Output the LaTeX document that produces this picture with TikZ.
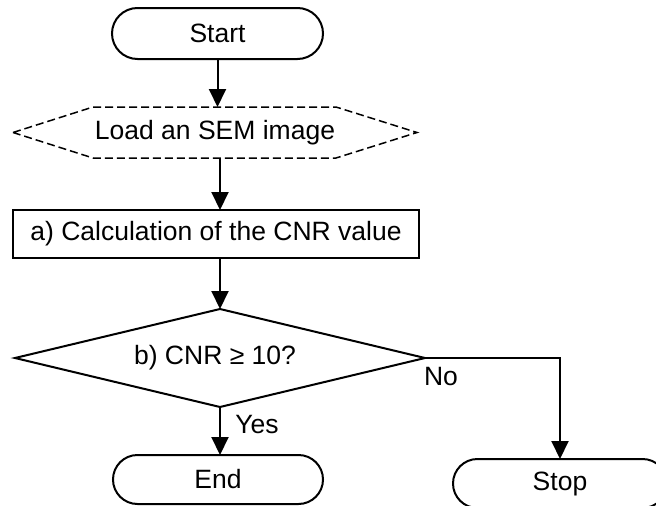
\documentclass[tikz,border=0pt]{standalone}
\usepackage{fontspec}
\setmainfont{Liberation Sans}
\usetikzlibrary{shapes.geometric,shapes.misc,arrows.meta,calc}

\begin{document}
\begin{tikzpicture}[x=1pt,y=-1pt,
  every node/.style={font=\fontsize{26.5}{30}\selectfont, inner sep=0pt, outer sep=0pt},
  line/.style={line width=2pt},
  arr/.style={line, -{Triangle[length=18pt,width=17pt]}},
  terminal/.style={rounded rectangle, draw, line width=2pt},
  process/.style={rectangle, draw, line width=2pt},
  decision/.style={diamond, draw, line width=2pt, aspect=4.2},
  dashedborder/.style={line width=1.5pt, dash pattern=on 8pt off 4pt}
]
\useasboundingbox (0,0) rectangle (656,506);
\clip (0,0) rectangle (656,506);

% flow chart boxes
\node[terminal, minimum width=211pt, minimum height=51pt] (start) at (217.5,33.5) {Start};
\node[minimum width=404pt, minimum height=51pt] (load) at (215,132.5) {Load an SEM image};
\draw[dashedborder] (load.west) -- ($(load.north west)+(80,0)$) -- ($(load.north east)+(-81,0)$)
  -- (load.east) -- ($(load.south east)+(-81,0)$) -- ($(load.south west)+(80,0)$) -- cycle;
\node[process, minimum width=406pt, minimum height=48pt] (calc) at (216,234) {a) Calculation of the CNR value};
\node[decision, minimum width=410pt, minimum height=98pt] (check) at (220,358) {\hspace*{-10pt}b) CNR ≥ 10?};
\node[terminal, minimum width=210pt, minimum height=49pt] (end) at (218,479.5) {End};
\node[terminal, minimum width=214pt, minimum height=49pt] (stop) at (560,483.5) {Stop};

% connectors
\draw[arr] (start.south) -- (start.south |- load.north);
\draw[arr] (load.south -| check.north) -- (calc.north -| check.north);
\draw[arr] (calc.south -| check.north) -- (check.north);
\draw[arr] (check.south) -- (check.south |- end.north);
\draw[arr] (check.east) -| (stop.north);

% branch labels
\node (no) at (441,377) {No};
\node (yes) at (257,425) {Yes};
\end{tikzpicture}
\end{document}
